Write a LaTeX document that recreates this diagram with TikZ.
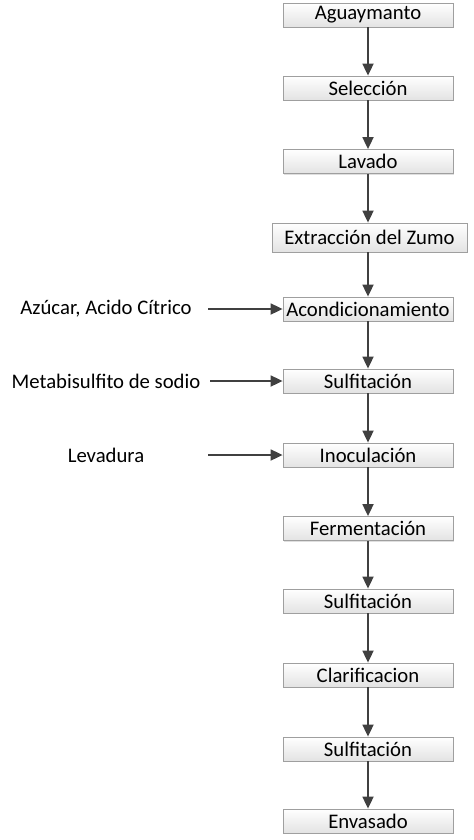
\documentclass[tikz,border=0pt]{standalone}
\usepackage{fontspec}
\setmainfont{Carlito}
\usetikzlibrary{arrows.meta,shadows}
\begin{document}
\begin{tikzpicture}[x=1bp,y=-1bp]
    \useasboundingbox (0,0) rectangle (474,840);

    \tikzstyle{pnode} = [draw=gray!75, line width=0.8bp, rectangle, top color=white, bottom color=gray!22,
        minimum width=170bp, minimum height=24bp, inner sep=2bp,
        drop shadow={shadow xshift=1.2bp, shadow yshift=-1.2bp, opacity=0.25},
        font=\fontsize{20.8}{24}\selectfont]
    \tikzstyle{inode} = [inner sep=0pt, font=\fontsize{20.8}{24}\selectfont]
    \tikzstyle{flow} = [draw=black!75, line width=1.8bp, -{Triangle[length=12bp,width=11bp]}]

    \node[pnode] (p1) at (368,15) {Aguaymanto};
    \node[pnode] (p2) at (368,88) {Selección};
    \node[pnode] (p3) at (368,161.5) {Lavado};
    \node[pnode, minimum width=195bp, minimum height=29bp] (p4) at (369.5,237.5) {Extracción del Zumo};
    \node[pnode] (p5) at (368,309) {Acondicionamiento};
    \node[pnode] (p6) at (368,381) {Sulfitación};
    \node[pnode] (p7) at (368,455) {Inoculación};
    \node[pnode] (p8) at (368,528.5) {Fermentación};
    \node[pnode] (p9) at (368,601) {Sulfitación};
    \node[pnode] (p10) at (368,675) {Clarificacion};
    \node[pnode] (p11) at (368,749) {Sulfitación};
    \node[pnode] (p12) at (368,821) {Envasado};

    \node[inode] (in1) at (106,309) {Azúcar, Acido Cítrico};
    \node[inode] (in2) at (106,381) {Metabisulfito de sodio};
    \node[inode] (in3) at (106,455) {Levadura};

    \coordinate (s1) at (208,309);
    \coordinate (s2) at (210,381);
    \coordinate (s3) at (208,455);

    % main line
    \draw[flow] (p1) -- (p2);
    \draw[flow] (p2) -- (p3);
    \draw[flow] (p3.south) -- (p3.south |- p4.north);
    \draw[flow] (p4.south -| p5.north) -- (p5);
    \draw[flow] (p5) -- (p6);
    \draw[flow] (p6) -- (p7);
    \draw[flow] (p7) -- (p8);
    \draw[flow] (p8) -- (p9);
    \draw[flow] (p9) -- (p10);
    \draw[flow] (p10) -- (p11);
    \draw[flow] (p11) -- (p12);

    % inputs
    \draw[flow] (s1) -- (p5.west);
    \draw[flow] (s2) -- (p6.west);
    \draw[flow] (s3) -- (p7.west);
\end{tikzpicture}
\end{document}
